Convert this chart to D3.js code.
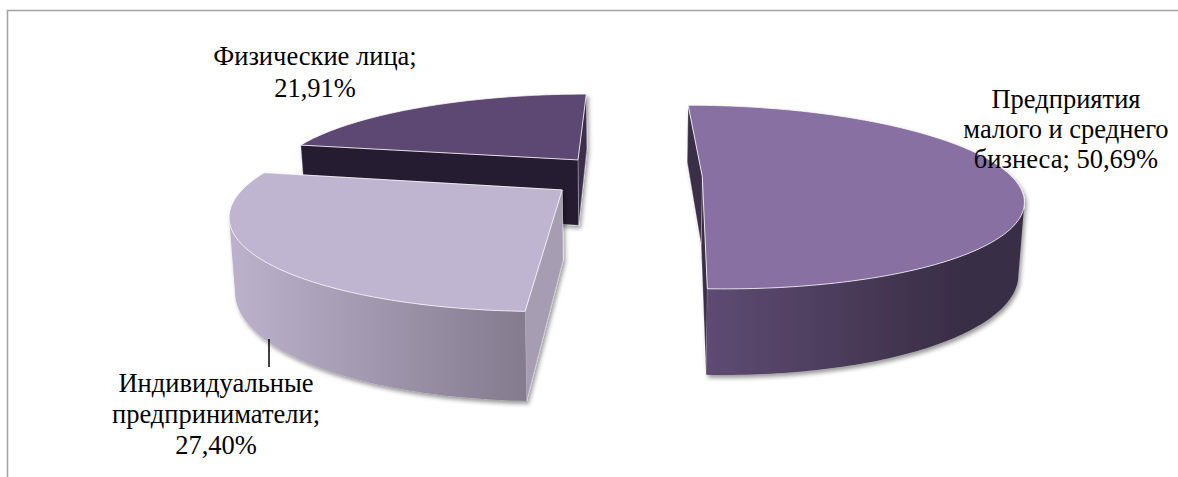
<!DOCTYPE html>
<html lang="ru"><head><meta charset="utf-8">
<script src="https://cdn.jsdelivr.net/npm/d3@7"></script>
<style>html,body{margin:0;padding:0;background:#fff;overflow:hidden}svg{display:block}</style>
</head><body><div id="chart"></div>
<script>
// ---- data ----
const categories = ["Предприятия малого и среднего бизнеса", "Индивидуальные предприниматели", "Физические лица"];
const values = [50.69, 27.40, 21.91];
const labelLines = [
  ["Предприятия", "малого и среднего", "бизнеса; 50,69%"],
  ["Индивидуальные", "предприниматели;", "27,40%"],
  ["Физические лица;", "21,91%"]
];
// ---- presentation ----
const W = 1178, H = 477;
const cx = 625, cy = 176, Rx = 309, Ry = 87, persp = 0.224, explode = 0.25;
const depth = 68, bottomScale = 0.985;
const topFill = ["#8970a2", "#bfb5d0", "#5d4673"];
const wallStops = [["#5e4b72", "#392d45"], ["#bcb2cc", "#857b8f"], ["#261c31", "#261c31"]];
const sideFill = ["#3a2f47", "#a69db2", "#3c2f49"];
const labelPos = [[1066, 108], [216, 392], [315, 65]];
const lineStep = [30, 31, 32];

const svg = d3.select("#chart").append("svg").attr("width", W).attr("height", H);
const defs = svg.append("defs");
const f = defs.append("filter").attr("id", "shadow").attr("x", "-10%").attr("y", "-10%").attr("width", "120%").attr("height", "120%");
f.append("feDropShadow").attr("dx", 2).attr("dy", 3).attr("stdDeviation", 2).attr("flood-color", "#000").attr("flood-opacity", 0.4);

// chart frame
svg.append("path").attr("d", d3.line()([[7.5, H], [7.5, 10.5], [W, 10.5]]))
  .attr("fill", "none").attr("stroke", "#a3a3a3").attr("stroke-width", 1.5);

// perspective projection of the pie plane
const topPt = ([X, Y]) => { const w = 1 / (1 - persp * Y); return [cx + Rx * X * w, cy + Ry * Y * w]; };
const botPt = ([X, Y]) => { const w = 1 / (1 - persp * Y); return [cx + Rx * X * w * bottomScale, cy + (Ry * Y * bottomScale + depth) * w]; };
const path = d3.line();

const arcs = d3.pie().sort(null).startAngle(0).endAngle(2 * Math.PI)(values);

// back slices first, so nearer ones overlap them
d3.range(arcs.length - 1, -1, -1).forEach(i => {
  const a = arcs[i];
  const mid = (a.startAngle + a.endAngle) / 2;
  const apex = [explode * Math.sin(mid), -explode * Math.cos(mid)];
  const rim = t => [apex[0] + Math.sin(t), apex[1] - Math.cos(t)];
  const n = Math.ceil((a.endAngle - a.startAngle) * 60);
  const angles = d3.range(n + 1).map(k => a.startAngle + (a.endAngle - a.startAngle) * k / n);
  const arcPlane = angles.map(rim);
  const g = svg.append("g").attr("filter", "url(#shadow)").attr("class", "slice");

  // only the front-facing part of the rim has a visible wall (x falls as the angle grows)
  const front = arcPlane.filter((p, k) =>
    (k < n && topPt(arcPlane[k + 1])[0] < topPt(p)[0]) || (k > 0 && topPt(p)[0] < topPt(arcPlane[k - 1])[0]));

  const xs = arcPlane.map(p => topPt(p)[0]);
  const gid = "wall" + i;
  const lg = defs.append("linearGradient").attr("id", gid).attr("gradientUnits", "userSpaceOnUse")
    .attr("x1", i === 0 ? topPt(rim(a.endAngle))[0] : d3.min(xs))
    .attr("x2", i === 0 ? d3.max(xs) - 60 : topPt(rim(a.startAngle))[0]).attr("y1", 0).attr("y2", 0);
  lg.append("stop").attr("offset", 0).attr("stop-color", wallStops[i][0]);
  lg.append("stop").attr("offset", 1).attr("stop-color", wallStops[i][1]);

  // radial faces
  const face = t => [topPt(apex), topPt(rim(t)), botPt(rim(t)), botPt(apex)];
  const isWall = t => (i === 2 && t === a.startAngle);
  [a.endAngle, a.startAngle].forEach(t => {
    g.append("path").attr("d", path(face(t)) + "Z")
      .attr("fill", isWall(t) ? wallStops[2][0] : sideFill[i])
      .attr("stroke", "#fff").attr("stroke-opacity", 0.35).attr("stroke-width", 0.8);
  });
  // outer wall
  if (front.length > 1) {
    const wall = front.map(topPt).concat(front.slice().reverse().map(botPt));
    g.append("path").attr("d", path(wall) + "Z").attr("fill", `url(#${gid})`);
  }
  // top face
  g.append("path").attr("d", path([topPt(apex), ...arcPlane.map(topPt)]) + "Z")
    .attr("fill", topFill[i]).attr("stroke", "#fff").attr("stroke-opacity", 0.75).attr("stroke-width", 1);
});

// leader line
svg.append("line").attr("x1", 269).attr("x2", 269).attr("y1", 339).attr("y2", 367)
  .attr("stroke", "#000").attr("stroke-width", 1.5);

// labels
categories.forEach((c, i) => {
  const t = svg.append("text").attr("class", "label").attr("text-anchor", "middle")
    .attr("font-family", "'Liberation Serif','Times New Roman',serif").attr("font-size", 26.5).attr("fill", "#000");
  labelLines[i].forEach((l, k) => t.append("tspan").attr("x", labelPos[i][0]).attr("y", labelPos[i][1] + k * lineStep[i]).text(l));
});
</script></body></html>
